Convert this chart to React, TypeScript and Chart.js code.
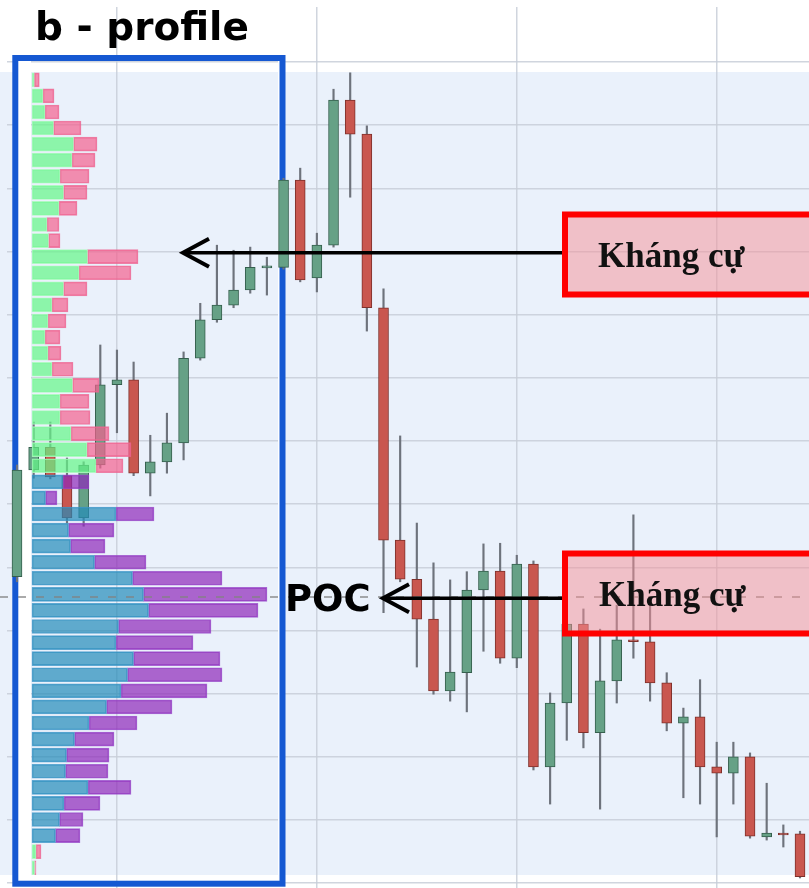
import React, { useEffect, useRef } from 'react';
import { Chart, registerables } from 'chart.js';

Chart.register(...registerables);

// ---- Candles (price units; one gridline = 10) ----
const OPEN = [48.5, 65.4, 69.0, 64.5, 57.8, 66.2, 78.9, 79.7, 64.9, 66.7, 69.7, 83.1, 89.2, 91.5, 93.9, 97.4, 97.5, 111.3, 95.8, 101.0, 124.0, 118.6, 91.1, 54.3, 48.1, 41.8, 30.4, 33.3, 46.4, 49.4, 35.6, 50.5, 18.4, 28.5, 41.0, 23.8, 32.0, 38.5, 38.2, 31.7, 25.3, 26.3, 18.4, 17.4, 20.0, 7.3, 7.8, 7.8];
const HIGH = [66.2, 73.0, 73.0, 67.3, 66.7, 85.2, 84.4, 82.5, 70.9, 74.4, 84.1, 91.8, 101.0, 100.2, 100.7, 99.1, 111.6, 113.2, 102.9, 125.7, 128.3, 119.9, 94.1, 70.8, 57.0, 50.7, 48.0, 49.3, 53.7, 53.8, 51.9, 51.0, 30.1, 43.6, 43.4, 40.2, 44.0, 58.3, 44.0, 33.3, 27.7, 32.2, 22.3, 22.3, 20.6, 15.8, 9.2, 8.2];
const LOW = [47.7, 64.1, 64.0, 57.0, 56.5, 65.7, 71.3, 64.5, 61.3, 64.9, 67.0, 82.8, 88.8, 91.1, 93.4, 93.1, 97.2, 95.2, 93.6, 100.7, 108.6, 87.4, 42.8, 47.7, 34.2, 29.9, 28.8, 27.1, 36.7, 34.8, 34.1, 17.9, 12.5, 22.6, 21.4, 11.7, 28.5, 35.6, 28.8, 24.1, 13.5, 12.5, 7.3, 12.5, 7.1, 6.8, 5.7, 0.8];
const CLOSE = [65.4, 69.0, 64.3, 57.8, 66.2, 78.9, 79.7, 64.9, 66.7, 69.7, 83.1, 89.2, 91.5, 93.9, 97.5, 97.7, 111.3, 95.5, 101.0, 124.0, 118.6, 91.1, 54.3, 48.1, 41.8, 30.4, 33.4, 46.4, 49.4, 35.6, 50.5, 18.4, 28.5, 41.0, 23.8, 32.0, 38.5, 38.2, 31.7, 25.3, 26.3, 18.4, 17.4, 20.0, 7.4, 7.9, 7.6, 1.0];

// ---- Volume profile rows (top row first) ----
const PROFILE_BUY = [2.3, 11, 13, 21.5, 41.5, 40, 28, 31.5, 27, 15, 16.5, 55.5, 47, 31.5, 20, 16, 13, 16, 20, 40.5, 28, 28, 39, 55, 64, 31, 13.5, 84, 36.5, 38.5, 62.5, 100.5, 111.5, 116.5, 86.5, 84, 101.5, 95.5, 89, 74.5, 57, 42.5, 34.5, 33.5, 56, 32, 27.5, 23.5, 4, 2.5];
const PROFILE_SELL = [5, 11, 14, 27.5, 23.5, 23, 29, 23.5, 18, 12, 11.5, 50.5, 52, 23.5, 16, 18, 15, 13, 21, 26.5, 29, 30, 38, 44, 27, 26, 11.5, 38, 45.5, 34.5, 51.5, 89.5, 123.5, 109.5, 92.5, 77, 86.5, 94.5, 86, 65.5, 48, 39.5, 42.5, 42.5, 43, 36, 23.5, 24.5, 5, 1.5];
const VALUE_AREA = [25, 47];

// ---- Grid / levels ----
const Y_GRID = [0, 10, 20, 30, 40, 50, 60, 70, 80, 90, 100, 110, 120, 130];
const X_GRID = [6, 18, 30, 42];
const POC_PRICE = 45.3;
const RESIST_LEVELS = [99.8, 45.1];
const TITLE = 'b - profile';
const LABEL = 'Kháng cự';
const POC_LABEL = 'POC';

const GREEN = '#66a186';
const GREEN_B = '#355f4d';
const RED = '#c9574f';
const RED_B = '#7e302b';

const inVA = (k: number) => k >= VALUE_AREA[0] && k <= VALUE_AREA[1];

const hiddenAxis = (horizontal: boolean) => ({
  type: 'linear',
  offset: false,
  ticks: { display: false },
  grid: { display: false, drawTicks: false },
  border: { display: false },
  afterFit: (s: any) => {
    if (horizontal) s.height = 0;
    else s.width = 0;
  },
});

export default function App() {
  const ref = useRef<HTMLCanvasElement | null>(null);

  useEffect(() => {
    const canvas = ref.current;
    if (!canvas) return;

    const up = OPEN.map((o, i) => CLOSE[i] >= o);

    const decor = {
      id: 'decor',
      beforeDraw(chart: any) {
        const ctx = chart.ctx;
        ctx.save();
        ctx.fillStyle = '#eaf1fb';
        ctx.fillRect(0, 72, 809, 803);
        ctx.restore();
      },
      beforeDatasetsDraw(chart: any) {
        const ctx = chart.ctx;
        ctx.save();
        ctx.fillStyle = '#ffffff';
        ctx.fillRect(18, 61, 13, 820);
        ctx.fillRect(278, 61, 2, 820);
        ctx.strokeStyle = '#1558d2';
        ctx.lineWidth = 6;
        ctx.strokeRect(15.3, 58, 267.2, 825.7);
        ctx.restore();
      },
      afterDatasetsDraw(chart: any) {
        const ctx = chart.ctx;
        const y = chart.scales.y;
        ctx.save();
        // POC dashed line
        const pocY = y.getPixelForValue(POC_PRICE);
        ctx.strokeStyle = 'rgba(130,130,130,0.9)';
        ctx.lineWidth = 1.5;
        ctx.setLineDash([8, 10]);
        ctx.beginPath();
        ctx.moveTo(0, pocY);
        ctx.lineTo(809, pocY);
        ctx.stroke();
        ctx.setLineDash([]);

        // red boxes
        const boxTops = [214.5, 553.5];
        boxTops.forEach((t) => {
          ctx.fillStyle = 'rgba(246,143,150,0.5)';
          ctx.fillRect(565, t, 260, 80);
          ctx.strokeStyle = '#ff0000';
          ctx.lineWidth = 6;
          ctx.strokeRect(565, t, 260, 80);
        });

        // arrows
        const tips = [183, 383];
        RESIST_LEVELS.forEach((lv, i) => {
          const ay = y.getPixelForValue(lv);
          const tx = tips[i];
          ctx.strokeStyle = '#000';
          ctx.lineWidth = 3.5;
          ctx.beginPath();
          ctx.moveTo(tx + 2, ay);
          ctx.lineTo(562, ay);
          ctx.stroke();
          ctx.lineWidth = 4;
          ctx.lineJoin = 'miter';
          ctx.beginPath();
          ctx.moveTo(tx + 26, ay - 14);
          ctx.lineTo(tx, ay);
          ctx.lineTo(tx + 26, ay + 14);
          ctx.stroke();
        });

        // texts
        ctx.fillStyle = '#111';
        ctx.textBaseline = 'alphabetic';
        ctx.textAlign = 'left';
        ctx.font = 'bold 35px "Liberation Serif"';
        ctx.fillText(LABEL, 598, 267);
        ctx.fillText(LABEL, 599, 606);
        ctx.fillStyle = '#000';
        ctx.font = 'bold 37px "DejaVu Sans"';
        ctx.fillText(POC_LABEL, 285, 611);
        ctx.font = 'bold 39px "DejaVu Sans"';
        ctx.fillText(TITLE, 35, 40);
        ctx.restore();
      },
    };

    const gridCfg = { color: 'rgba(200,206,216,0.85)', lineWidth: 1.5, drawTicks: false, offset: false };

    const chart = new Chart(canvas, {
      type: 'bar',
      data: {
        datasets: [
          {
            label: 'wick',
            data: OPEN.map((_, i) => ({ x: i, y: [LOW[i], HIGH[i]] })) as any,
            xAxisID: 'x',
            yAxisID: 'y',
            backgroundColor: '#6e737c',
            borderWidth: 0,
            barThickness: 1.5,
            grouped: false,
            order: 5,
          } as any,
          {
            label: 'body',
            data: OPEN.map((o, i) => ({ x: i, y: [o, CLOSE[i]] })) as any,
            xAxisID: 'x',
            yAxisID: 'y',
            backgroundColor: up.map((u) => (u ? GREEN : RED)),
            borderColor: up.map((u) => (u ? GREEN_B : RED_B)),
            borderWidth: 1,
            borderSkipped: false,
            barThickness: 10,
            minBarLength: 2,
            grouped: false,
            order: 4,
          } as any,
          {
            label: 'buy',
            indexAxis: 'y',
            data: PROFILE_BUY.map((v, k) => ({ x: v, y: k })) as any,
            xAxisID: 'xp',
            yAxisID: 'yp',
            stack: 'p',
            grouped: false,
            backgroundColor: PROFILE_BUY.map((_, k) => (inVA(k) ? 'rgba(35,140,185,0.7)' : 'rgba(100,247,135,0.7)')),
            borderColor: PROFILE_BUY.map((_, k) => (inVA(k) ? 'rgba(60,150,200,0.8)' : 'rgba(170,250,190,0.9)')),
            borderWidth: 1,
            borderSkipped: false,
            barThickness: 14,
            order: 1,
          } as any,
          {
            label: 'sell',
            indexAxis: 'y',
            data: PROFILE_SELL.map((v, k) => ({ x: v, y: k })) as any,
            xAxisID: 'xp',
            yAxisID: 'yp',
            stack: 'p',
            grouped: false,
            backgroundColor: PROFILE_SELL.map((_, k) => (inVA(k) ? 'rgba(143,40,185,0.7)' : 'rgba(243,97,142,0.7)')),
            borderColor: PROFILE_SELL.map((_, k) => (inVA(k) ? 'rgba(150,70,200,0.8)' : 'rgba(236,100,145,0.8)')),
            borderWidth: 1,
            borderSkipped: false,
            barThickness: 14,
            order: 1,
          } as any,
        ],
      },
      options: {
        animation: false,
        responsive: false,
        devicePixelRatio: 1,
        layout: { padding: { left: 7, top: 7, right: 0, bottom: 0 } },
        plugins: { legend: { display: false }, tooltip: { enabled: false }, title: { display: false } },
        scales: {
          x: {
            type: 'linear',
            min: -0.6,
            max: 47.54,
            offset: false,
            afterBuildTicks: (s: any) => { s.ticks = X_GRID.map((v) => ({ value: v })); },
            afterFit: (s: any) => { s.height = 0; },
            ticks: { display: false },
            grid: gridCfg,
            border: { display: false },
          },
          y: {
            type: 'linear',
            min: -0.79,
            max: 138.72,
            offset: false,
            afterBuildTicks: (s: any) => { s.ticks = Y_GRID.map((v) => ({ value: v })); },
            afterFit: (s: any) => { s.width = 0; },
            ticks: { display: false },
            grid: gridCfg,
            border: { display: false },
          },
          xp: { ...hiddenAxis(true), position: 'bottom', min: -25, max: 777, stacked: true },
          yp: { ...hiddenAxis(false), position: 'left', min: -4.527, max: 50.26, reverse: true, stacked: true },
        } as any,
      },
      plugins: [decor],
    });

    return () => chart.destroy();
  }, []);

  return (
    <div style={{ position: 'absolute', left: 0, top: 0, width: 809, height: 888 }}>
      <canvas ref={ref} width={809} height={888} style={{ display: 'block', width: 809, height: 888 }} />
    </div>
  );
}
